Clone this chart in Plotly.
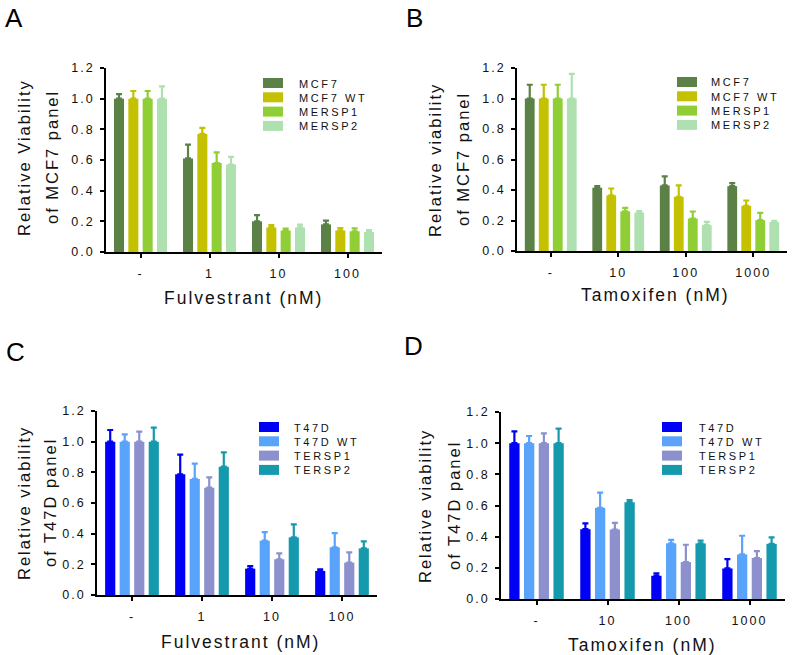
import plotly.graph_objects as go

# ---- data ----
mcf7_names = ["MCF7", "MCF7 WT", "MERSP1", "MERSP2"]
t47d_names = ["T47D", "T47D WT", "TERSP1", "TERSP2"]
mcf7_colors = ["#5b8146", "#c3c100", "#8fce35", "#aee0b0"]
t47d_colors = ["#0000f5", "#5aa3fa", "#8c90cc", "#1599ad"]

fulv_doses = ["-", "1", "10", "100"]
tam_doses = ["-", "10", "100", "1000"]

# panel A: fulvestrant, MCF7 panel (mean, upper error)
a_mean = [[1.00, 0.61, 0.20, 0.18],
          [1.00, 0.77, 0.16, 0.14],
          [1.00, 0.58, 0.14, 0.135],
          [1.00, 0.57, 0.16, 0.13]]
a_err = [[0.03, 0.09, 0.04, 0.025],
         [0.05, 0.04, 0.015, 0.016],
         [0.05, 0.07, 0.013, 0.019],
         [0.08, 0.05, 0.018, 0.013]]

# panel B: tamoxifen, MCF7 panel
b_mean = [[1.00, 0.415, 0.43, 0.425],
          [1.00, 0.365, 0.355, 0.296],
          [1.00, 0.26, 0.213, 0.202],
          [1.00, 0.252, 0.17, 0.19]]
b_err = [[0.09, 0.01, 0.06, 0.02],
         [0.09, 0.045, 0.075, 0.035],
         [0.09, 0.023, 0.046, 0.048],
         [0.162, 0.009, 0.021, 0.007]]

# panel C: fulvestrant, T47D panel
c_mean = [[1.00, 0.787, 0.172, 0.157],
          [1.00, 0.757, 0.354, 0.311],
          [1.00, 0.70, 0.233, 0.211],
          [1.00, 0.837, 0.376, 0.304]]
c_err = [[0.076, 0.128, 0.017, 0.01],
         [0.048, 0.10, 0.056, 0.093],
         [0.065, 0.067, 0.039, 0.067],
         [0.091, 0.093, 0.084, 0.046]]

# panel D: tamoxifen, T47D panel
d_mean = [[1.00, 0.448, 0.149, 0.196],
          [1.00, 0.585, 0.357, 0.286],
          [1.00, 0.446, 0.237, 0.263],
          [1.00, 0.621, 0.357, 0.354]]
d_err = [[0.076, 0.037, 0.015, 0.06],
         [0.046, 0.098, 0.023, 0.12],
         [0.063, 0.043, 0.111, 0.044],
         [0.093, 0.013, 0.017, 0.041]]

FONT = "Arial, Liberation Sans, sans-serif"
W, H = 800, 655


def px(x):
    return x / W


def py(y):
    return 1 - y / H


fig = go.Figure()

# layout of each panel in pixels
panels = [
    dict(mean=a_mean, err=a_err, names=mcf7_names, colors=mcf7_colors, doses=fulv_doses,
         xt="Fulvestrant (nM)", yt=["Relative Viability", "of MCF7 panel"],
         x0=106, x1=382, ytop=68, ybot=252, xt_pos=(243, 298), yt_x=(24, 52), yt_y=157,
         leg=(263, 297, 83), letter="A", let_pos=(4, 18)),
    dict(mean=b_mean, err=b_err, names=mcf7_names, colors=mcf7_colors, doses=tam_doses,
         xt="Tamoxifen (nM)", yt=["Relative viability", "of MCF7 panel"],
         x0=517, x1=787, ytop=68, ybot=251, xt_pos=(655, 295), yt_x=(435, 463), yt_y=159,
         leg=(677, 709, 82), letter="B", let_pos=(405, 18)),
    dict(mean=c_mean, err=c_err, names=t47d_names, colors=t47d_colors, doses=fulv_doses,
         xt="Fulvestrant (nM)", yt=["Relative viability", "of T47D panel"],
         x0=97, x1=377, ytop=411, ybot=595, xt_pos=(240, 642), yt_x=(24, 50), yt_y=503,
         leg=(259, 292, 427), letter="C", let_pos=(5, 352)),
    dict(mean=d_mean, err=d_err, names=t47d_names, colors=t47d_colors, doses=tam_doses,
         xt="Tamoxifen (nM)", yt=["Relative viability", "of T47D panel"],
         x0=501, x1=785, ytop=412, ybot=599, xt_pos=(642, 645), yt_x=(425, 454), yt_y=506,
         leg=(662, 697, 427), letter="D", let_pos=(403, 346)),
]

annotations = []
shapes = []
for i, p in enumerate(panels):
    n = i + 1
    xa = "x" if n == 1 else f"x{n}"
    ya = "y" if n == 1 else f"y{n}"
    for j in range(4):
        fig.add_trace(go.Bar(
            x=p["doses"], y=p["mean"][j], name=p["names"][j], marker_color=p["colors"][j],
            marker_line_width=0, xaxis=xa, yaxis=ya, showlegend=False,
            error_y=dict(type="data", symmetric=False, array=p["err"][j],
                         arrayminus=[0] * 4, color=p["colors"][j], thickness=2.2, width=3),
        ))
    axis_common = dict(showline=True, linecolor="black", linewidth=1.8,
                       ticks="outside", tickcolor="black", tickwidth=1.8, ticklen=4,
                       showgrid=False, zeroline=False, automargin=False,
                       tickfont=dict(family=FONT, size=12.5, color="#111"))
    fig.update_layout({
        ("xaxis" if n == 1 else f"xaxis{n}"): dict(
            domain=[px(p["x0"]), px(p["x1"])], anchor=ya, range=[-0.5, 3.5],
            type="category", ticklabelstandoff=5, **axis_common),
        ("yaxis" if n == 1 else f"yaxis{n}"): dict(
            domain=[py(p["ybot"]), py(p["ytop"])], anchor=xa, range=[0, 1.2],
            dtick=0.2, tickformat=".1f", ticklabelstandoff=3, **axis_common),
    })

    # axis titles
    annotations.append(dict(text=p["xt"], x=px(p["xt_pos"][0]), y=py(p["xt_pos"][1]),
                            xref="paper", yref="paper", showarrow=False,
                            xanchor="center", yanchor="middle",
                            font=dict(family=FONT, size=17.5, color="#111")))
    for line, lx in zip(p["yt"], p["yt_x"]):
        annotations.append(dict(text=line, x=px(lx), y=py(p["yt_y"]), textangle=-90,
                                xref="paper", yref="paper", showarrow=False,
                                xanchor="center", yanchor="middle",
                                font=dict(family=FONT, size=16.5, color="#111")))

    # legend (swatch + label per series)
    bx, tx, cy = p["leg"]
    for j, (nm, col) in enumerate(zip(p["names"], p["colors"])):
        yc = cy + j * 14.3
        shapes.append(dict(type="rect", xref="paper", yref="paper",
                           x0=px(bx), x1=px(bx + 20), y0=py(yc + 5), y1=py(yc - 5),
                           fillcolor=col, line_width=0))
        annotations.append(dict(text=f"<span style='letter-spacing:2.6px'>{nm}</span>",
                                x=px(tx), y=py(yc + 0.5), xref="paper", yref="paper",
                                showarrow=False, xanchor="left", yanchor="middle",
                                font=dict(family=FONT, size=11, color="#111")))

    # panel letter
    annotations.append(dict(text=p["letter"], x=px(p["let_pos"][0]), y=py(p["let_pos"][1]),
                            xref="paper", yref="paper", showarrow=False,
                            xanchor="left", yanchor="middle",
                            font=dict(family=FONT, size=26, color="black")))

fig.update_layout(
    width=W, height=H,
    margin=dict(l=0, r=0, t=0, b=0),
    paper_bgcolor="white", plot_bgcolor="white",
    barmode="group", bargap=0.17, bargroupgap=0.3,
    annotations=annotations, shapes=shapes,
    showlegend=False,
)

# the original figure uses wide letter tracking on its text;
# also drop the page's default body margin so the figure sits at the window's corner
page_js = """
document.body.style.margin = '0';
var st = document.createElement('style');
st.textContent = '.main-svg text { letter-spacing: 2px; } ' +
                 '.main-svg .xaxislayer-above text, .main-svg .yaxislayer-above text { letter-spacing: 2px !important; } ' +
                 '.main-svg .annotation-text { letter-spacing: 2px; }';
document.head.appendChild(st);
"""

fig.write_html("out.html", post_script=page_js, config={"displayModeBar": False})
